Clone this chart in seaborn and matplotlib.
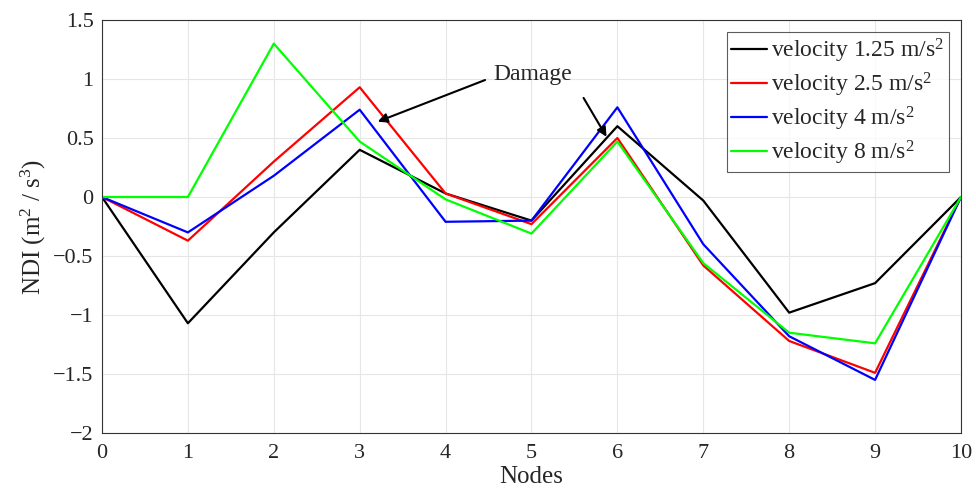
import numpy as np
import pandas as pd
import matplotlib
matplotlib.use("Agg")
import matplotlib.pyplot as plt
import seaborn as sns

nodes = list(range(11))
v125 = [0, -1.07, -0.30, 0.40, 0.03, -0.20, 0.60, -0.03, -0.98, -0.73, 0]
v25 = [0, -0.37, 0.30, 0.93, 0.03, -0.23, 0.50, -0.58, -1.22, -1.49, 0]
v4 = [0, -0.30, 0.18, 0.74, -0.21, -0.20, 0.76, -0.40, -1.18, -1.55, 0]
v8 = [0, 0.00, 1.30, 0.47, -0.02, -0.31, 0.47, -0.56, -1.15, -1.24, 0]
labels = ["velocity 1.25 m/s$^2$", "velocity 2.5 m/s$^2$",
          "velocity 4 m/s$^2$", "velocity 8 m/s$^2$"]
colors = ["#000000", "#ff0000", "#0000ff", "#00ff00"]
yticklabels = ["\u22122", "\u22121.5", "\u22121", "\u22120.5", "0", "0.5", "1", "1.5"]

sns.set_style("white")
plt.rcParams['font.family'] = ['Liberation Serif', 'DejaVu Serif']
plt.rcParams['mathtext.fontset'] = 'custom'
plt.rcParams['mathtext.rm'] = 'Liberation Serif'
plt.rcParams['mathtext.it'] = 'Liberation Serif:italic'

df = pd.DataFrame({
    "Nodes": nodes * 4,
    "NDI": v125 + v25 + v4 + v8,
    "series": sum([[l] * len(nodes) for l in labels], []),
})

fig = plt.figure(figsize=(9.76, 4.93), dpi=100)
ax = fig.add_axes([0.1045, 0.1217, 0.8801, 0.8377])
sns.lineplot(data=df, x="Nodes", y="NDI", hue="series", palette=colors,
             hue_order=labels, linewidth=1.6, ax=ax, sort=False)

ax.set_xlim(0, 10)
ax.set_ylim(-2, 1.5)
ax.set_xticks(range(0, 11))
ax.set_yticks(np.arange(-2, 1.51, 0.5))
ax.set_yticklabels(yticklabels)
ax.grid(True, color="#e6e6e6", linewidth=0.8)
ax.tick_params(direction="in", length=4, labelsize=16, color="#444444")
ax.tick_params(axis='x', pad=8)
ax.tick_params(axis='y', pad=6)
for s in ax.spines.values():
    s.set_color("#333333")
    s.set_linewidth(0.8)
ax.set_xlabel("Nodes", fontsize=18, labelpad=2)
ax.set_ylabel("NDI (m$^2$ / s$^3$)", fontsize=18, labelpad=4)

leg = ax.legend(loc="upper right", fontsize=17, frameon=True, fancybox=False,
                edgecolor="#333333", handlelength=1.5, handletextpad=0.2,
                borderaxespad=0.5, labelspacing=0.25, borderpad=0.2)
leg.get_frame().set_linewidth(0.8)

ax.text(5.02, 1.04, "Damage", fontsize=17, ha="center", va="center")
ax.annotate("", xy=(3.18, 0.63), xytext=(4.49, 1.0),
            arrowprops=dict(arrowstyle="-|>", color="black", lw=1.5, mutation_scale=14))
ax.annotate("", xy=(5.89, 0.49), xytext=(5.59, 0.86),
            arrowprops=dict(arrowstyle="-|>", color="black", lw=1.5, mutation_scale=14))

fig.savefig("out.png", dpi=100)
